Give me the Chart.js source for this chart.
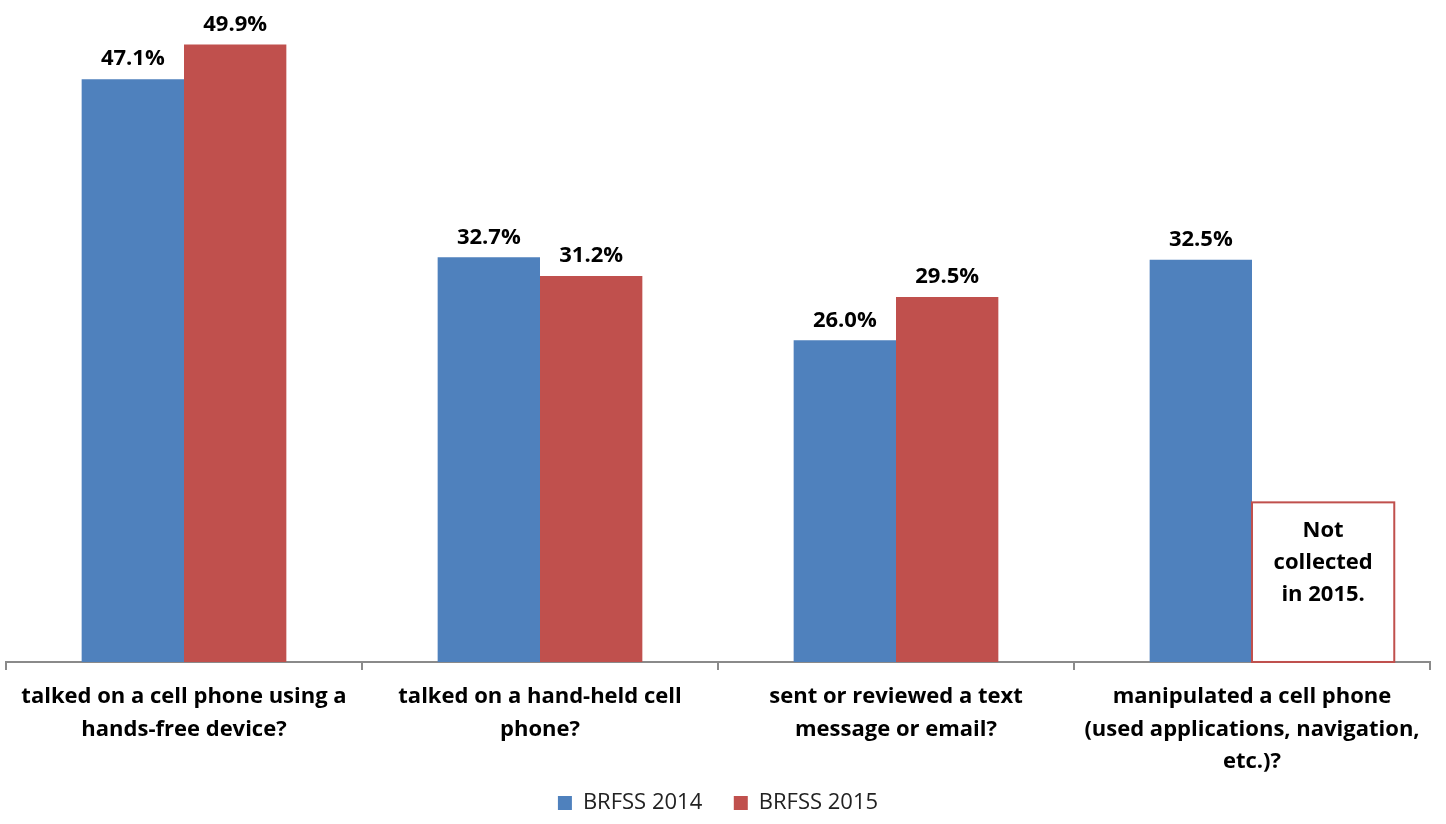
<!DOCTYPE html>
<html>
<head>
<meta charset="utf-8">
<script src="https://cdn.jsdelivr.net/npm/chart.js@4"></script>
<style>
  html, body { margin: 0; padding: 0; background: #fff; }
  #wrap { width: 1446px; height: 824px; position: relative; }
</style>
</head>
<body>
<div id="wrap"><canvas id="chart"></canvas></div>
<script>
// ── DATA ────────────────────────────────────────────────────
const categories = [
  ['talked on a cell phone using a', 'hands-free device?'],
  ['talked on a hand-held cell', 'phone?'],
  ['sent or reviewed a text', 'message or email?'],
  ['manipulated a cell phone', '(used applications, navigation,', 'etc.)?'],
];
const brfss2014 = [47.1, 32.7, 26.0, 32.5];
const brfss2015 = [49.9, 31.2, 29.5, null];
const seriesNames = ['BRFSS 2014', 'BRFSS 2015'];
const noteLines = ['Not', 'collected', 'in 2015.'];

const BLUE = '#4F81BD';
const RED  = '#C0504D';
const FONT = '"Open Sans", "Noto Sans", sans-serif';

// value labels above each bar
const valueLabels = {
  id: 'valueLabels',
  afterDatasetsDraw(chart) {
    const ctx = chart.ctx;
    ctx.save();
    ctx.font = 'bold 22px ' + FONT;
    ctx.fillStyle = '#000';
    ctx.textAlign = 'center';
    ctx.textBaseline = 'bottom';
    chart.data.datasets.forEach((ds, i) => {
      chart.getDatasetMeta(i).data.forEach((bar, j) => {
        const v = ds.data[j];
        if (v == null) return;
        ctx.fillText(v.toFixed(1) + '%', bar.x, bar.y - 9);
      });
    });
    ctx.restore();
  }
};

// "not collected" note sitting where the missing 2015 bar would be
const missingNote = {
  id: 'missingNote',
  afterDatasetsDraw(chart) {
    const idx = brfss2015.findIndex(v => v == null);
    if (idx < 0) return;
    const ctx  = chart.ctx;
    const bar  = chart.getDatasetMeta(0).data[idx];
    const yS   = chart.scales.y;
    const left = bar.x + bar.width / 2;
    const w    = bar.width * 1.39;
    const top  = yS.getPixelForValue(12.9);
    const bot  = yS.getPixelForValue(0);
    ctx.save();
    ctx.fillStyle = '#fff';
    ctx.fillRect(left, top, w, bot - top);
    ctx.strokeStyle = RED;
    ctx.lineWidth = 2;
    ctx.strokeRect(left, top, w, bot - top);
    ctx.font = 'bold 22px ' + FONT;
    ctx.fillStyle = '#000';
    ctx.textAlign = 'center';
    ctx.textBaseline = 'middle';
    noteLines.forEach((t, k) => ctx.fillText(t, left + w / 2, top + 28 + k * 32));
    ctx.restore();
  }
};

new Chart(document.getElementById('chart'), {
  type: 'bar',
  data: {
    labels: categories,
    datasets: [
      { label: seriesNames[0], data: brfss2014, backgroundColor: BLUE },
      { label: seriesNames[1], data: brfss2015, backgroundColor: RED },
    ],
  },
  options: {
    responsive: true, maintainAspectRatio: false, animation: false,
    categoryPercentage: 0.575, barPercentage: 1,
    layout: { padding: { left: 6, right: 16, top: 0, bottom: 0 } },
    plugins: {
      tooltip: { enabled: false },
      legend: {
        position: 'bottom',
        labels: {
          color: '#222', font: { family: FONT, size: 22 },
          boxWidth: 14, boxHeight: 14, padding: 3, useBorderRadius: false,
          // wider gap between the two entries
          generateLabels(chart) {
            const items = Chart.defaults.plugins.legend.labels.generateLabels(chart);
            items.forEach((it, i) => { if (i < items.length - 1) it.text += '     '; });
            return items;
          },
        },
      },
    },
    scales: {
      x: {
        border: { display: true, color: '#8a8a8a', width: 2 },
        grid: { drawOnChartArea: false, drawTicks: true, tickLength: 8, color: '#8a8a8a', lineWidth: 2 },
        ticks: {
          color: '#000', maxRotation: 0, autoSkip: false, padding: 11,
          font: { family: FONT, size: 22, weight: 'bold', lineHeight: 1.47 },
        },
      },
      y: { display: false, min: 0, max: 53.5 },
    },
  },
  plugins: [valueLabels, missingNote],
});
</script>
</body>
</html>
